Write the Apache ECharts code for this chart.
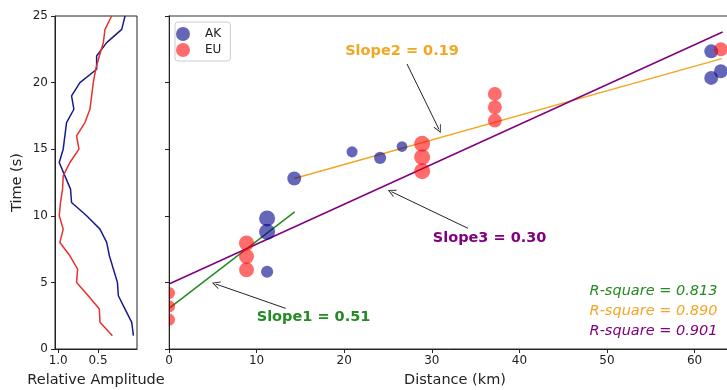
<!DOCTYPE html>
<html>
<head>
<meta charset="utf-8">
<script src="https://cdn.jsdelivr.net/npm/echarts@6/dist/echarts.min.js"></script>
<style>html,body{margin:0;padding:0;background:#fff}#c{width:727px;height:390px}</style>
</head>
<body>
<div id="c"></div>
<script>
// ---- Left panel: relative amplitude vs time ----
const ampTime = [1,2,3,4,5,6,7,8,9,10,11,12,13,14,15,16,17,18,19,20,21,22,23,24,25];
const akAmp = [0.055,0.076,0.16,0.244,0.256,0.307,0.357,0.391,0.475,0.643,0.832,0.845,0.916,0.987,0.937,0.916,0.895,0.803,0.832,0.727,0.517,0.517,0.391,0.202,0.16];
const euAmp = [0.319,0.475,0.483,0.622,0.769,0.756,0.853,0.979,0.937,0.987,0.971,0.945,0.937,0.853,0.739,0.769,0.664,0.601,0.58,0.559,0.529,0.483,0.433,0.412,0.328];
const ampTicks = [1.0, 0.5];

// ---- Right panel: arrival time vs distance ----
const akDist = [14.3, 20.9, 24.1, 26.6, 11.2, 11.2, 11.2, 61.9, 61.9, 63.0];
const akTime = [12.8, 14.8, 14.35, 15.2, 9.8, 8.8, 5.8, 22.35, 20.35, 20.85];
const akWeight = [0.7, 0.3, 0.45, 0.25, 1.0, 1.0, 0.45, 0.7, 0.7, 0.7];
const euDist = [0, 0, 0, 8.85, 8.85, 8.85, 28.9, 28.9, 28.9, 37.2, 37.2, 37.2, 63.0];
const euTime = [4.2, 3.2, 2.2, 7.95, 6.95, 5.95, 15.4, 14.4, 13.35, 19.15, 18.15, 17.15, 22.5];
const euWeight = [0.45, 0.45, 0.45, 0.9, 0.85, 0.85, 1.0, 1.0, 1.0, 0.7, 0.7, 0.7, 0.7];

// fitted lines (end points)
const fit1 = [[0, 3.05], [14.35, 10.3]];
const fit2 = [[14.3, 12.8], [63.1, 21.8]];
const fit3 = [[0, 4.88], [63.2, 23.8]];
const slopeLabels = ['Slope1 = 0.51', 'Slope2 = 0.19', 'Slope3 = 0.30'];
const rsqLabels = ['R-square = 0.813', 'R-square = 0.890', 'R-square = 0.901'];
// annotation anchors in data units [km, s]
const slopeTextAt = [[16.5, 2.35], [26.6, 22.32], [36.6, 8.31]];
const arrowFrom = [[13.32, 3.05], [27.17, 21.4], [34.13, 9.06]];
const arrowTo = [[5.33, 4.88], [30.82, 16.49], [25.39, 11.81]];
const rsqAt = [[62.67, 4.3], [62.67, 2.8], [62.67, 1.3]];

const C_GREEN = '#228b22', C_ORANGE = '#f2a623', C_PURPLE = '#800080';
const fitColors = [C_GREEN, C_ORANGE, C_PURPLE];
const FONT = 'DejaVu Sans';
const AXC = '#222';
const OPEN_ARROW = 'path://M5,0 L10,10 L8.8,10 L5,2.4 L1.2,10 L0,10 Z';

function sz(w) { return 9 + 7 * w; }

const chart = echarts.init(document.getElementById('c'), null, {renderer: 'canvas'});

const fitSeries = [fit1, fit2, fit3].map((f, i) => ({
  type: 'line', xAxisIndex: 1, yAxisIndex: 1, data: f, showSymbol: false, symbol: 'none',
  lineStyle: {color: fitColors[i], width: 1.5}, z: 3, silent: true,
  markLine: {
    silent: true, symbol: ['none', OPEN_ARROW], symbolSize: [8, 8],
    label: {show: false},
    lineStyle: {color: '#222', width: 1, type: 'solid'},
    data: [[{coord: arrowFrom[i]}, {coord: arrowTo[i]}]]
  },
  markPoint: {
    silent: true, symbol: 'circle', symbolSize: 1, itemStyle: {color: 'rgba(0,0,0,0)'},
    data: [
      {coord: slopeTextAt[i], label: {show: true, position: 'inside', formatter: slopeLabels[i], color: fitColors[i], fontSize: 14.5, fontWeight: 'bold', fontFamily: FONT}},
      {coord: rsqAt[i], label: {show: true, position: 'left', distance: 0, formatter: rsqLabels[i], color: fitColors[i], fontSize: 14.5, fontStyle: 'italic', fontFamily: FONT}}
    ]
  }
}));

const option = {
  animation: false,
  textStyle: {fontFamily: FONT},
  grid: [
    {left: 55, top: 16, width: 82, height: 333, show: true, borderColor: AXC, borderWidth: 1, outerBoundsMode: 'none', containLabel: false},
    {left: 169, top: 16, width: 572, height: 333, show: true, borderColor: '#333', borderWidth: 1.2, outerBoundsMode: 'none', containLabel: false}
  ],
  xAxis: [
    {gridIndex: 0, type: 'value', inverse: true, min: 0.01, max: 1.04,
     axisLine: {show: true, lineStyle: {color: AXC}},
     axisTick: {show: true, length: 4, customValues: ampTicks, lineStyle: {color: AXC}},
     axisLabel: {customValues: ampTicks, formatter: v => v.toFixed(1), margin: 6, fontSize: 12, color: AXC, fontFamily: FONT},
     splitLine: {show: false},
     name: 'Relative Amplitude', nameLocation: 'middle', nameGap: 24,
     nameTextStyle: {fontSize: 14.5, color: AXC, fontFamily: FONT}},
    {gridIndex: 1, type: 'value', min: 0, max: 65.3, interval: 10,
     axisLine: {show: true, lineStyle: {color: AXC}},
     axisTick: {show: true, length: 4, lineStyle: {color: AXC}},
     axisLabel: {margin: 6, fontSize: 12, color: AXC, fontFamily: FONT, showMaxLabel: false},
     splitLine: {show: false},
     name: 'Distance (km)', nameLocation: 'middle', nameGap: 24,
     nameTextStyle: {fontSize: 14.5, color: AXC, fontFamily: FONT}}
  ],
  yAxis: [
    {gridIndex: 0, type: 'value', min: 0, max: 25, interval: 5,
     axisLine: {show: true, lineStyle: {color: AXC}},
     axisTick: {show: true, length: 4, lineStyle: {color: AXC}},
     axisLabel: {margin: 7, fontSize: 12, color: AXC, fontFamily: FONT},
     splitLine: {show: false},
     name: 'Time (s)', nameLocation: 'middle', nameRotate: 90, nameGap: 30,
     nameTextStyle: {fontSize: 14.5, color: AXC, fontFamily: FONT}},
    {gridIndex: 1, type: 'value', min: 0, max: 25, interval: 5, z: 60,
     axisLine: {show: true, lineStyle: {color: AXC}},
     axisTick: {show: true, length: 4, lineStyle: {color: AXC}},
     axisLabel: {show: false},
     splitLine: {show: false}}
  ],
  legend: {
    data: ['AK', 'EU'], orient: 'vertical', left: 175, top: 22,
    itemWidth: 34, itemHeight: 14, itemGap: 2, padding: [5, 9, 4, 1],
    borderColor: '#ccc', borderWidth: 1, borderRadius: 3, backgroundColor: '#fff',
    icon: 'circle', textStyle: {fontSize: 12, color: AXC, fontFamily: FONT}
  },
  graphic: [
    {type: 'rect', shape: {x: 138, y: 0, width: 30.5, height: 349}, style: {fill: '#fff'}, z: 50, silent: true}
  ],
  series: [
    {type: 'line', xAxisIndex: 0, yAxisIndex: 0, showSymbol: false, symbol: 'none',
     data: akAmp.map((a, i) => [a, ampTime[i]]), lineStyle: {color: '#1a1a8c', width: 1.5}},
    {type: 'line', xAxisIndex: 0, yAxisIndex: 0, showSymbol: false, symbol: 'none',
     data: euAmp.map((a, i) => [a, ampTime[i]]), lineStyle: {color: '#e8302c', width: 1.5}},
    {name: 'AK', type: 'scatter', xAxisIndex: 1, yAxisIndex: 1, z: 4,
     data: akDist.map((d, i) => [d, akTime[i], akWeight[i]]),
     symbolSize: v => sz(v[2]), itemStyle: {color: 'rgba(0,0,139,0.75)'}},
    {name: 'EU', type: 'scatter', xAxisIndex: 1, yAxisIndex: 1, z: 4,
     data: euDist.map((d, i) => [d, euTime[i], euWeight[i]]),
     symbolSize: v => sz(v[2]), itemStyle: {color: 'rgba(255,0,0,0.72)'}},
    ...fitSeries
  ]
};
chart.setOption(option);
</script>
</body>
</html>
